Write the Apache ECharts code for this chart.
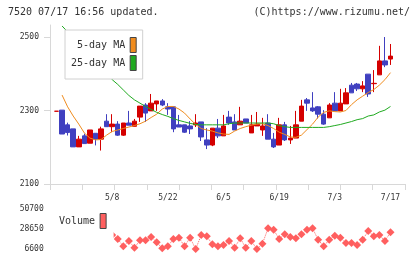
<!DOCTYPE html>
<html>
<head>
<meta charset="utf-8">
<script src="https://cdn.jsdelivr.net/npm/echarts@6/dist/echarts.min.js"></script>
<style>
  html, body { margin: 0; padding: 0; background: #fff; }
  #chart { width: 420px; height: 259px; }
</style>
</head>
<body>
<div id="chart"></div>
<script>
// trading days (2025)
var dates = ['4/21','4/22','4/23','4/24','4/25','4/28','4/30','5/1','5/2','5/7',
  '5/8','5/9','5/12','5/13','5/14','5/15','5/16','5/19','5/20','5/21',
  '5/22','5/23','5/26','5/27','5/28','5/29','5/30','6/2','6/3','6/4',
  '6/5','6/6','6/9','6/10','6/11','6/12','6/13','6/16','6/17','6/18',
  '6/19','6/20','6/23','6/24','6/25','6/26','6/27','6/30','7/1','7/2',
  '7/3','7/4','7/7','7/8','7/9','7/10','7/11','7/14','7/15','7/16','7/17'];
var dateLabels = ['5/8', '5/22', '6/5', '6/19', '7/3', '7/17'];

// [open, close, low, high]
var candles = [
  [2298, 2298, 2298, 2298], [2301, 2236, 2236, 2301], [2261, 2240, 2232, 2267], [2250, 2201, 2201, 2250],
  [2201, 2222, 2201, 2231], [2231, 2210, 2210, 2237], [2211, 2247, 2211, 2247], [2238, 2222, 2205, 2238],
  [2222, 2250, 2191, 2256], [2271, 2256, 2256, 2290], [2256, 2263, 2241, 2290], [2263, 2233, 2231, 2271],
  [2233, 2266, 2231, 2266], [2266, 2260, 2260, 2299], [2257, 2271, 2257, 2277], [2282, 2312, 2269, 2312],
  [2315, 2293, 2269, 2320], [2299, 2320, 2299, 2345], [2318, 2326, 2299, 2326], [2326, 2315, 2312, 2331],
  [2310, 2304, 2288, 2320], [2310, 2250, 2241, 2310], [2261, 2255, 2255, 2288], [2261, 2241, 2239, 2261],
  [2258, 2250, 2236, 2271], [2261, 2266, 2255, 2290], [2269, 2228, 2217, 2269], [2220, 2206, 2195, 2252],
  [2206, 2252, 2203, 2252], [2252, 2231, 2225, 2277], [2231, 2258, 2231, 2288], [2282, 2266, 2261, 2299],
  [2269, 2247, 2247, 2290], [2261, 2271, 2261, 2310], [2277, 2266, 2266, 2277], [2239, 2261, 2239, 2288],
  [2258, 2263, 2258, 2296], [2247, 2258, 2231, 2280], [2266, 2222, 2222, 2290], [2222, 2201, 2198, 2239],
  [2206, 2261, 2206, 2280], [2261, 2220, 2217, 2269], [2220, 2225, 2209, 2258], [2225, 2261, 2225, 2299],
  [2271, 2312, 2271, 2329], [2329, 2320, 2299, 2334], [2307, 2299, 2296, 2350], [2310, 2290, 2278, 2312],
  [2290, 2263, 2261, 2301], [2280, 2315, 2280, 2320], [2320, 2299, 2299, 2350], [2299, 2320, 2299, 2359],
  [2318, 2348, 2318, 2361], [2369, 2348, 2348, 2375], [2372, 2359, 2353, 2375], [2359, 2367, 2350, 2380],
  [2399, 2345, 2337, 2399], [2373, 2374, 2350, 2410], [2397, 2435, 2397, 2476], [2435, 2424, 2418, 2500],
  [2440, 2448, 2424, 2481]
];

var ma5 = ['-', 2342, 2310, 2285, 2263, 2239, 2225, 2220, 2221, 2233,
  2243, 2247, 2251, 2255, 2259, 2264, 2271, 2281, 2290, 2304,
  2311, 2311, 2304, 2293, 2277, 2262, 2251, 2247, 2244, 2239,
  2236, 2235, 2244, 2251, 2256, 2260, 2263, 2264, 2259, 2251,
  2241, 2235, 2228, 2227, 2233, 2248, 2263, 2282, 2295, 2299,
  2297, 2296, 2300, 2316, 2329, 2339, 2349, 2357, 2369, 2384, 2403];

var ma25 = ['-', 2530, 2514, 2497, 2481, 2465, 2448, 2432, 2416, 2400,
  2384, 2371, 2356, 2341, 2329, 2320, 2311, 2303, 2295, 2289,
  2284, 2278, 2273, 2269, 2265, 2262, 2261, 2261, 2261, 2261,
  2261, 2264, 2266, 2266, 2266, 2266, 2266, 2266, 2266, 2264,
  2259, 2256, 2254, 2254, 2254, 2254, 2254, 2254, 2254, 2256,
  2259, 2262, 2266, 2270, 2275, 2278, 2285, 2288, 2296, 2301, 2311];

// first ten days sit behind the volume legend box
var volume = [50700, 36000, 29000, 33000, 26000, 22000, 27000, 21000, 24000, 20000,
  22400, 18000, 9900, 15800, 8400, 16500, 16500, 20200, 14300, 7700,
  9900, 18000, 19400, 9900, 19400, 6800, 22400, 20900, 12100, 9900,
  11300, 15800, 8400, 18700, 8400, 15800, 6800, 12800, 29800, 28200,
  18000, 23100, 20200, 18700, 23100, 28200, 29800, 17200, 9900, 17200,
  21600, 19400, 13600, 13600, 11300, 17200, 26800, 20900, 22400, 15800, 25300];

var priceTicks = [2100, 2300, 2500];
var volumeTicks = [6600, 28650, 50700];

var mono = 'DejaVu Sans Mono';
var axisGray = '#d8d8d8';
var upColor = '#d40000';
var downColor = '#4040c0';
var volColor = '#ff5f5f';

function plain(v) {
  return String(v);
}

var chart = echarts.init(document.getElementById('chart'));

var option = {
  animation: false,
  backgroundColor: '#fff',
  title: [{
    text: '7520 07/17 16:56 updated.',
    left: 8, top: 7, padding: 0,
    textStyle: { fontFamily: mono, fontSize: 10, fontWeight: 'normal', color: '#333' }
  }, {
    text: '(C)https://www.rizumu.net/',
    right: 10, top: 7, padding: 0,
    textStyle: { fontFamily: mono, fontSize: 10, fontWeight: 'normal', color: '#333' }
  }],
  legend: [{
    orient: 'vertical',
    left: 65, top: 30,
    padding: [7, 6, 8, 6],
    align: 'right',
    icon: 'rect',
    itemWidth: 6, itemHeight: 15, itemGap: 2,
    backgroundColor: '#fff',
    borderColor: '#d0d0d0', borderWidth: 1,
    textStyle: { fontFamily: mono, fontSize: 10, color: '#333' },
    data: [
      { name: '5-day MA', itemStyle: { color: '#f08c1e', borderColor: '#444', borderWidth: 1 } },
      { name: '25-day MA', itemStyle: { color: '#20aa20', borderColor: '#444', borderWidth: 1 } }
    ]
  }, {
    orient: 'vertical',
    left: 51, top: 203,
    padding: [10, 7, 22, 8],
    align: 'right',
    icon: 'rect',
    itemWidth: 6, itemHeight: 15,
    backgroundColor: '#fff',
    textStyle: { fontFamily: mono, fontSize: 10, color: '#333' },
    data: [
      { name: 'Volume', itemStyle: { color: volColor, borderColor: '#444', borderWidth: 1 } }
    ]
  }],
  grid: [
    { left: 50, right: 15, top: 25, bottom: 75 },          // frame with ticks
    { left: 53.72, right: 26.72, top: 25, bottom: 75 },    // candles
    { left: 53.72, right: 26.72, top: 209.3, bottom: 9.7 } // volume
  ],
  xAxis: [{
    type: 'value', gridIndex: 0, min: 0, max: 11, interval: 1,
    axisLine: { lineStyle: { color: axisGray, width: 1 } },
    axisTick: { length: 6, lineStyle: { color: axisGray } },
    axisLabel: { show: false },
    splitLine: { show: false }
  }, {
    type: 'category', gridIndex: 1, data: dates, boundaryGap: true,
    axisLine: { show: false },
    axisTick: { show: false },
    axisLabel: {
      interval: function(index, value) {
        return dateLabels.indexOf(value) >= 0;
      },
      margin: 10,
      fontFamily: mono, fontSize: 8, color: '#333'
    },
    splitLine: { show: false }
  }, {
    type: 'category', gridIndex: 2, data: dates, boundaryGap: true, show: false
  }],
  yAxis: [{
    type: 'value', gridIndex: 0, min: 2100, max: 2532.7,
    axisLine: { show: true, lineStyle: { color: axisGray, width: 1 } },
    axisTick: { show: true, length: 6, customValues: priceTicks, lineStyle: { color: axisGray } },
    axisLabel: { customValues: priceTicks, formatter: plain, margin: 11, fontFamily: mono, fontSize: 8, color: '#333' },
    splitLine: { show: false }
  }, {
    type: 'value', gridIndex: 1, min: 2100, max: 2532.7, show: false, splitLine: { show: false }
  }, {
    type: 'value', gridIndex: 2, min: 6600, max: 50700,
    axisLine: { show: false },
    axisTick: { show: false },
    axisLabel: { customValues: volumeTicks, formatter: plain, margin: 10, fontFamily: mono, fontSize: 8, color: '#333' },
    splitLine: { show: false }
  }],
  series: [{
    name: 'price',
    type: 'candlestick',
    xAxisIndex: 1, yAxisIndex: 1,
    barWidth: 5,
    data: candles,
    itemStyle: {
      color: upColor, color0: downColor,
      borderColor: upColor, borderColor0: downColor, borderColorDoji: upColor,
      borderWidth: 1
    }
  }, {
    name: '5-day MA',
    type: 'line',
    xAxisIndex: 1, yAxisIndex: 1,
    data: ma5,
    symbol: 'none',
    lineStyle: { color: '#f08c1e', width: 1 },
    itemStyle: { color: '#f08c1e' }
  }, {
    name: '25-day MA',
    type: 'line',
    xAxisIndex: 1, yAxisIndex: 1,
    data: ma25,
    symbol: 'none',
    lineStyle: { color: '#20aa20', width: 1 },
    itemStyle: { color: '#20aa20' }
  }, {
    name: 'Volume',
    type: 'line',
    xAxisIndex: 2, yAxisIndex: 2,
    data: volume,
    symbol: 'diamond',
    symbolSize: 8,
    showSymbol: true,
    showAllSymbol: true,
    lineStyle: { color: volColor, width: 1, type: 'dotted' },
    itemStyle: { color: volColor }
  }]
};

chart.setOption(option);
</script>
</body>
</html>
